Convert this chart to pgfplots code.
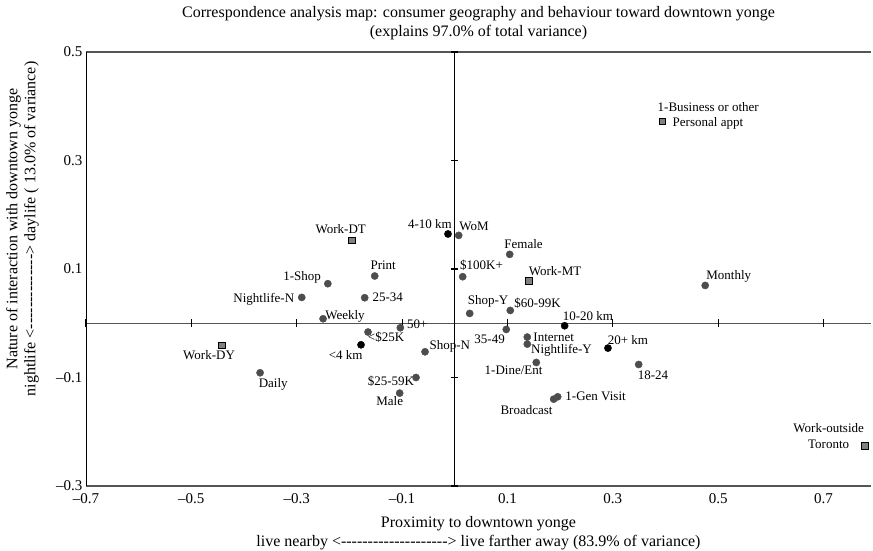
\documentclass[border=0pt]{standalone}
\usepackage{fontspec}
\setmainfont{Liberation Serif}
\usepackage{pgfplots}
\pgfplotsset{compat=1.18}
\definecolor{ptgray}{RGB}{77,77,77}
\definecolor{sqgray}{RGB}{128,128,128}
\definecolor{framegray}{RGB}{85,85,85}
\newcommand{\dashes}[1]{\foreach \i in {1,...,#1}{-\kern0pt}}
\begin{document}
\begin{tikzpicture}[
  lbl/.style={inner sep=0pt, text height=8.6bp, text depth=0pt, font=\fontsize{13bp}{15bp}\selectfont},
  ttl/.style={inner sep=0pt, text height=10.6bp, text depth=0pt, font=\fontsize{16bp}{19bp}\selectfont}]
\begin{axis}[
  at={(0,0)}, anchor=south west,
  scale only axis, width=785bp, height=434bp,
  xmin=-0.7, xmax=0.79, ymin=-0.3, ymax=0.5,
  axis line style={draw=none},
  tick style={draw=none},
  major tick length=0pt,
  xtick={-0.7,-0.5,-0.3,-0.1,0.1,0.3,0.5,0.7},
  xticklabels={–0.7,–0.5,–0.3,–0.1,0.1,0.3,0.5,0.7},
  ytick={-0.3,-0.1,0.1,0.3,0.5},
  yticklabels={–0.3,–0.1,0.1,0.3,0.5},
  tick label style={font=\fontsize{15bp}{17bp}\selectfont},
  xticklabel style={yshift=-4bp},
  clip=false,
]
\draw[framegray, line width=1.6bp] (rel axis cs:0,1) -- (rel axis cs:1,1);
\draw[framegray, line width=1.6bp] (rel axis cs:0,0) -- (rel axis cs:1,0);
\draw[black, line width=0.8bp] (rel axis cs:0,0) -- (rel axis cs:0,1);
\draw[framegray, line width=1.3bp] (axis cs:-0.7,0) -- (axis cs:0.79,0);
\draw[black, line width=1bp] (axis cs:0,-0.3) -- (axis cs:0,0.5);
\pgfplotsinvokeforeach{-0.7,-0.5,-0.3,-0.1,0.1,0.3,0.5,0.7}{
  \draw[black, line width=1.2bp] ([yshift=-3.8bp]axis cs:#1,0) -- ([yshift=3.8bp]axis cs:#1,0);}
\pgfplotsinvokeforeach{-0.3,-0.1,0.1,0.3,0.5}{
  \draw[black, line width=1.2bp] ([xshift=-3.5bp]axis cs:0,#1) -- ([xshift=3.5bp]axis cs:0,#1);}

% gray circles
\addplot[only marks, mark=*, mark size=3.6bp, color=ptgray] table {
x y
-0.152 0.0871
-0.241 0.0729
-0.2905 0.0476
-0.171 0.047
-0.250 0.0083
-0.1034 -0.0083
-0.1647 -0.0162
-0.3696 -0.0913
-0.0736 -0.100
-0.1046 -0.1288
0.0074 0.162
0.1042 0.127
0.015 0.0858
0.0283 0.0181
0.1053 0.0236
0.0977 -0.0114
0.1376 -0.0255
0.1376 -0.0384
-0.0565 -0.0526
0.1547 -0.0723
0.349 -0.076
0.1953 -0.1356
0.1877 -0.1399
0.4753 0.0697
};
% black circles (distance)
\addplot[only marks, mark=*, mark size=3.6bp, color=black] table {
x y
-0.0129 0.1646
0.2085 -0.0046
0.2907 -0.0458
-0.178 -0.0397
};
% squares (work location / purpose)
\addplot[only marks, mark=square*, mark size=3.3bp, mark options={fill=sqgray, draw=black, line width=0.9bp}] table {
x y
-0.195 0.1528
0.1408 0.0784
-0.4423 -0.041
0.3945 0.3718
0.778 -0.226
};

\node[lbl, anchor=center, xshift=-11.3bp, yshift=10.7bp] at (axis cs:-0.195,0.1528) {Work-DT};
\node[lbl, anchor=center, xshift=8.5bp, yshift=10.6bp] at (axis cs:-0.152,0.0871) {Print};
\node[lbl, anchor=east, xshift=-6.7bp, yshift=7.7bp] at (axis cs:-0.241,0.0729) {1-Shop};
\node[lbl, anchor=east, xshift=-7.4bp, yshift=-1bp] at (axis cs:-0.2905,0.0476) {Nightlife-N};
\node[lbl, anchor=west, xshift=7.6bp, yshift=1bp] at (axis cs:-0.171,0.047) {25-34};
\node[lbl, anchor=west, xshift=2bp, yshift=4bp] at (axis cs:-0.250,0.0083) {Weekly};
\node[lbl, anchor=west, xshift=6.7bp, yshift=4bp] at (axis cs:-0.1034,-0.0083) {50+};
\node[lbl, anchor=west, xshift=-0.3bp, yshift=-5bp] at (axis cs:-0.1647,-0.0162) {<\$25K};
\node[lbl, anchor=east, xshift=1.7bp, yshift=-10bp] at (axis cs:-0.178,-0.0397) {<4 km};
\node[lbl, anchor=center, xshift=-12.7bp, yshift=-9.6bp] at (axis cs:-0.4423,-0.041) {Work-DY};
\node[lbl, anchor=center, xshift=13.2bp, yshift=-10.7bp] at (axis cs:-0.3696,-0.0913) {Daily};
\node[lbl, anchor=east, xshift=-1.7bp, yshift=-3.3bp] at (axis cs:-0.0736,-0.100) {\$25-59K};
\node[lbl, anchor=center, xshift=-10bp, yshift=-8.4bp] at (axis cs:-0.1046,-0.1288) {Male};
\node[lbl, anchor=east, xshift=4bp, yshift=10bp] at (axis cs:-0.0129,0.1646) {4-10 km};
\node[lbl, anchor=west, xshift=0.6bp, yshift=9bp] at (axis cs:0.0074,0.162) {WoM};
\node[lbl, anchor=west, xshift=-5.4bp, yshift=9.7bp] at (axis cs:0.1042,0.127) {Female};
\node[lbl, anchor=west, xshift=-2.7bp, yshift=12bp] at (axis cs:0.015,0.0858) {\$100K+};
\node[lbl, anchor=west, xshift=-0.3bp, yshift=10bp] at (axis cs:0.1408,0.0784) {Work-MT};
\node[lbl, anchor=west, xshift=-2bp, yshift=13.7bp] at (axis cs:0.0283,0.0181) {Shop-Y};
\node[lbl, anchor=west, xshift=4bp, yshift=7.4bp] at (axis cs:0.1053,0.0236) {\$60-99K};
\node[lbl, anchor=west, xshift=-2bp, yshift=9.3bp] at (axis cs:0.2085,-0.0046) {10-20 km};
\node[lbl, anchor=east, xshift=-1.3bp, yshift=-9.6bp] at (axis cs:0.0977,-0.0114) {35-49};
\node[lbl, anchor=west, xshift=6bp, yshift=-0.4bp] at (axis cs:0.1376,-0.0255) {Internet};
\node[lbl, anchor=west, xshift=3.7bp, yshift=-4.7bp] at (axis cs:0.1376,-0.0384) {Nightlife-Y};
\node[lbl, anchor=west, xshift=-0.3bp, yshift=8.3bp] at (axis cs:0.2907,-0.0458) {20+ km};
\node[lbl, anchor=west, xshift=4.3bp, yshift=6.3bp] at (axis cs:-0.0565,-0.0526) {Shop-N};
\node[lbl, anchor=east, xshift=6.4bp, yshift=-8bp] at (axis cs:0.1547,-0.0723) {1-Dine/Ent};
\node[lbl, anchor=west, xshift=-1bp, yshift=-11bp] at (axis cs:0.349,-0.076) {18-24};
\node[lbl, anchor=west, xshift=7.6bp, yshift=1bp] at (axis cs:0.1953,-0.1356) {1-Gen Visit};
\node[lbl, anchor=east, xshift=-1bp, yshift=-11bp] at (axis cs:0.1877,-0.1399) {Broadcast};
\node[lbl, anchor=west, xshift=1bp, yshift=10.7bp] at (axis cs:0.4753,0.0697) {Monthly};
\node[lbl, anchor=center, xshift=45.6bp, yshift=14.3bp] at (axis cs:0.3945,0.3718) {1-Business or other};
\node[lbl, anchor=center, xshift=45.3bp, yshift=-0.7bp] at (axis cs:0.3945,0.3718) {Personal appt};
\node[lbl, anchor=center, xshift=-36bp, yshift=18bp] at (axis cs:0.778,-0.226) {Work-outside};
\node[lbl, anchor=center, xshift=-36bp, yshift=2bp] at (axis cs:0.778,-0.226) {Toronto};
\end{axis}
\node[ttl] at (392.5bp,474bp) {Correspondence analysis map: consumer geography and behaviour toward downtown yonge};
\node[ttl] at (392.5bp,455bp) {(explains 97.0\% of total variance)};
\node[ttl] at (392.5bp,-36bp) {Proximity to downtown yonge};
\node[ttl] at (392.5bp,-55bp) {live nearby <\dashes{20}> live farther away (83.9\% of variance)};
\node[ttl, rotate=90] at (-74bp,257bp) {Nature of interaction with downtown yonge};
\node[ttl, rotate=90] at (-56bp,257bp) {nightlife <\dashes{14}> daylife ( 13.0\% of variance)};
\pgfresetboundingbox
\path[use as bounding box] (-86bp,-65bp) rectangle (787bp,486bp);
\end{tikzpicture}
\end{document}
